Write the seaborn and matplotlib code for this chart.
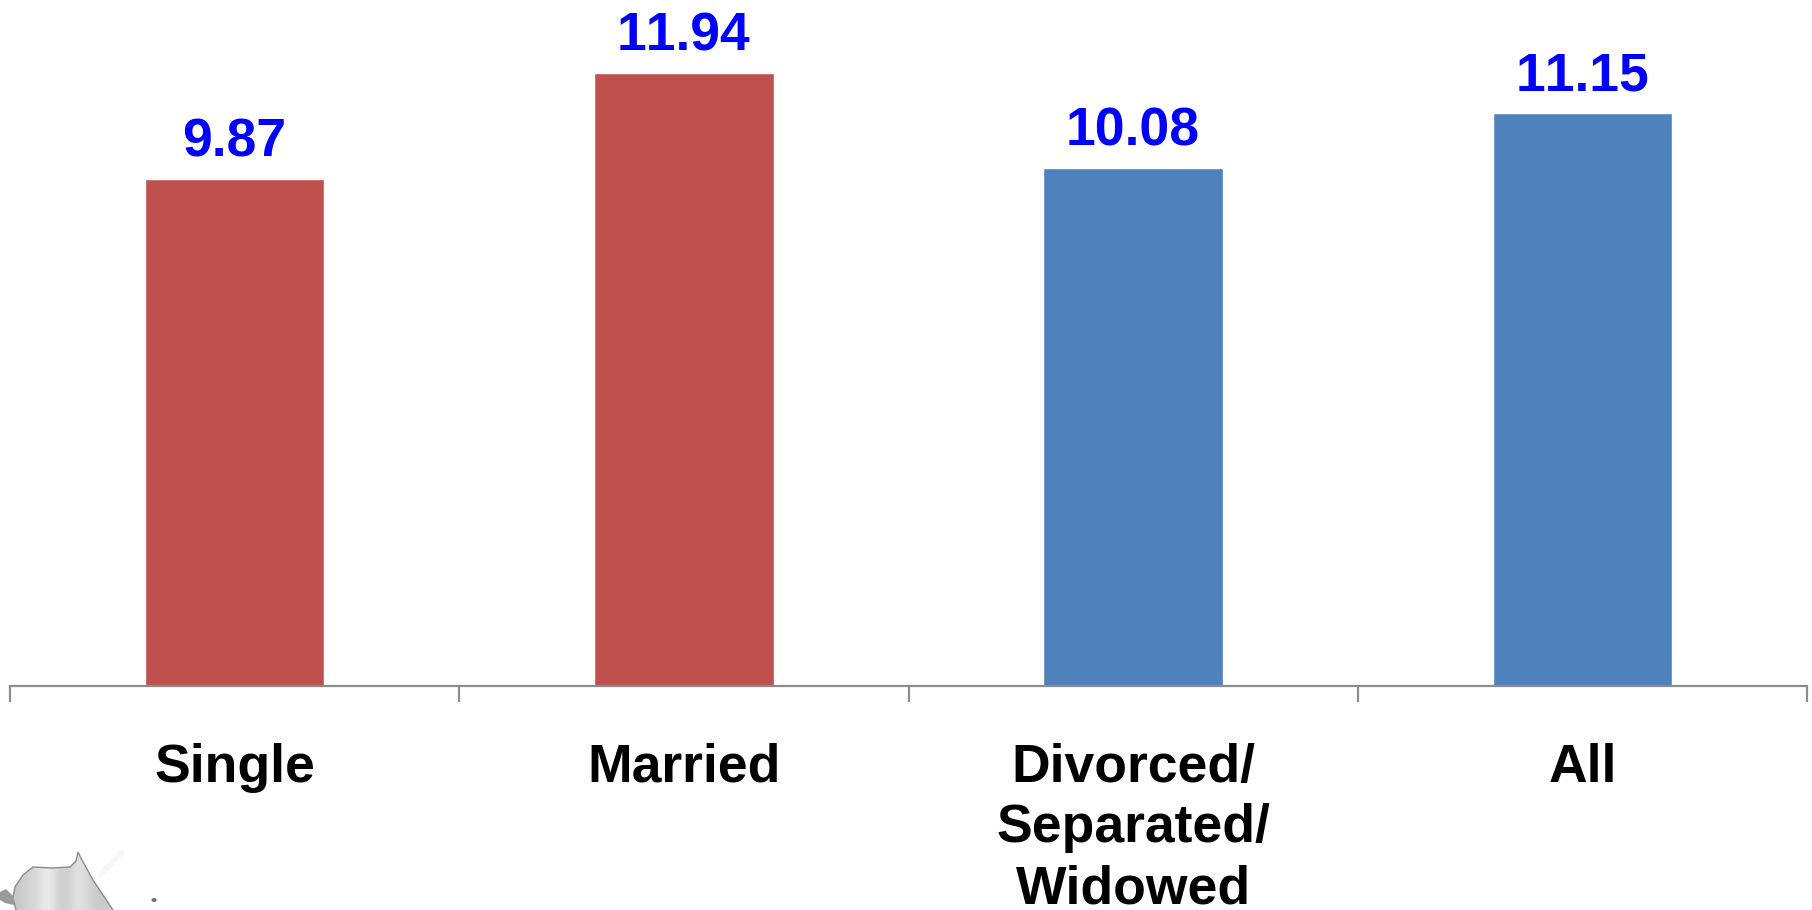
import numpy as np
import pandas as pd
import matplotlib
matplotlib.use("Agg")
import matplotlib.pyplot as plt
from matplotlib.patches import Polygon, Ellipse
import seaborn as sns

categories = ["Single", "Married", "Divorced/\nSeparated/\nWidowed", "All"]
values = [9.87, 11.94, 10.08, 11.15]
bar_colors = ["#C0504D", "#C0504D", "#4F81BD", "#4F81BD"]

W, H = 1812, 910
AXIS_COLOR = "#8C8C8C"

sns.set_theme(style="white")
plt.rcParams["font.family"] = ["Liberation Sans", "DejaVu Sans"]
plt.rcParams["text.kerning_factor"] = 10

fig = plt.figure(figsize=(W / 100, H / 100), dpi=100, facecolor="white")
ax = fig.add_axes([10 / W, (H - 686) / H, (1807 - 10) / W, 686 / H])

df = pd.DataFrame({"group": categories, "value": values})
sns.barplot(data=df, x="group", y="value", hue="group", palette=bar_colors,
            legend=False, width=0.4, saturation=1, ax=ax)

ax.set_xlim(-0.5, 3.5)
ax.set_ylim(0, 686 / 51.38)
ax.set_xlabel("")
ax.set_ylabel("")
ax.set_yticks([])

# Category boundaries carry the ticks; labels sit at the bar centres.
ax.set_xticks(np.arange(len(categories)))
ax.set_xticklabels(categories, fontsize=38.5, fontweight="bold", color="black",
                   linespacing=1.28)
ax.tick_params(axis="x", which="major", bottom=False, length=0, pad=40.7)
ax.set_xticks(np.arange(len(categories) + 1) - 0.5, minor=True)
ax.tick_params(axis="x", which="minor", bottom=True, length=11.5, width=1.6,
               color=AXIS_COLOR)

sns.despine(ax=ax, left=True, top=True, right=True)
ax.spines["bottom"].set_color(AXIS_COLOR)
ax.spines["bottom"].set_linewidth(1.6)

for i, v in enumerate(values):
    ax.annotate(f"{v:.2f}", (i, v), xytext=(0, 8.2), textcoords="offset points",
                ha="center", va="bottom", fontsize=38.5, fontweight="bold",
                color="#0000FF")

# Faint grey logo fragment in the lower-left corner.
overlay = fig.add_axes([0, 0, 1, 1], zorder=-1)
overlay.axis("off")
outline = [(16, 910), (13, 898), (15, 887), (23, 875), (33, 867), (52, 868),
           (70, 867), (76, 861), (78, 852), (82, 860), (93, 880), (113, 910)]
shade = np.array([[0.78, 0.83, 0.85, 0.95, 0.82, 0.80, 0.90, 0.84, 0.78, 0.80]])
im = overlay.imshow(shade, cmap="gray", vmin=0, vmax=1, extent=(13, 113, 910, 850),
                    aspect="auto", interpolation="bicubic")
edge = Polygon(outline, closed=False, transform=overlay.transData, facecolor="none",
               edgecolor="#8A8A8A", linewidth=1.0)
overlay.add_patch(edge)
im.set_clip_path(Polygon(outline, closed=True, transform=overlay.transData))
overlay.add_patch(Polygon([(0, 892), (6, 889), (14, 897), (14, 905), (5, 903), (0, 900)],
                          closed=True, facecolor="#9A9A9A", edgecolor="none"))
overlay.add_patch(Ellipse((154, 900), 5, 4, facecolor="#707070", edgecolor="none"))
overlay.plot([100, 122], [875, 852], color="#F7F7F7", linewidth=4, solid_capstyle="round")
overlay.set_xlim(0, W)
overlay.set_ylim(H, 0)

fig.savefig("out.png", dpi=100)
